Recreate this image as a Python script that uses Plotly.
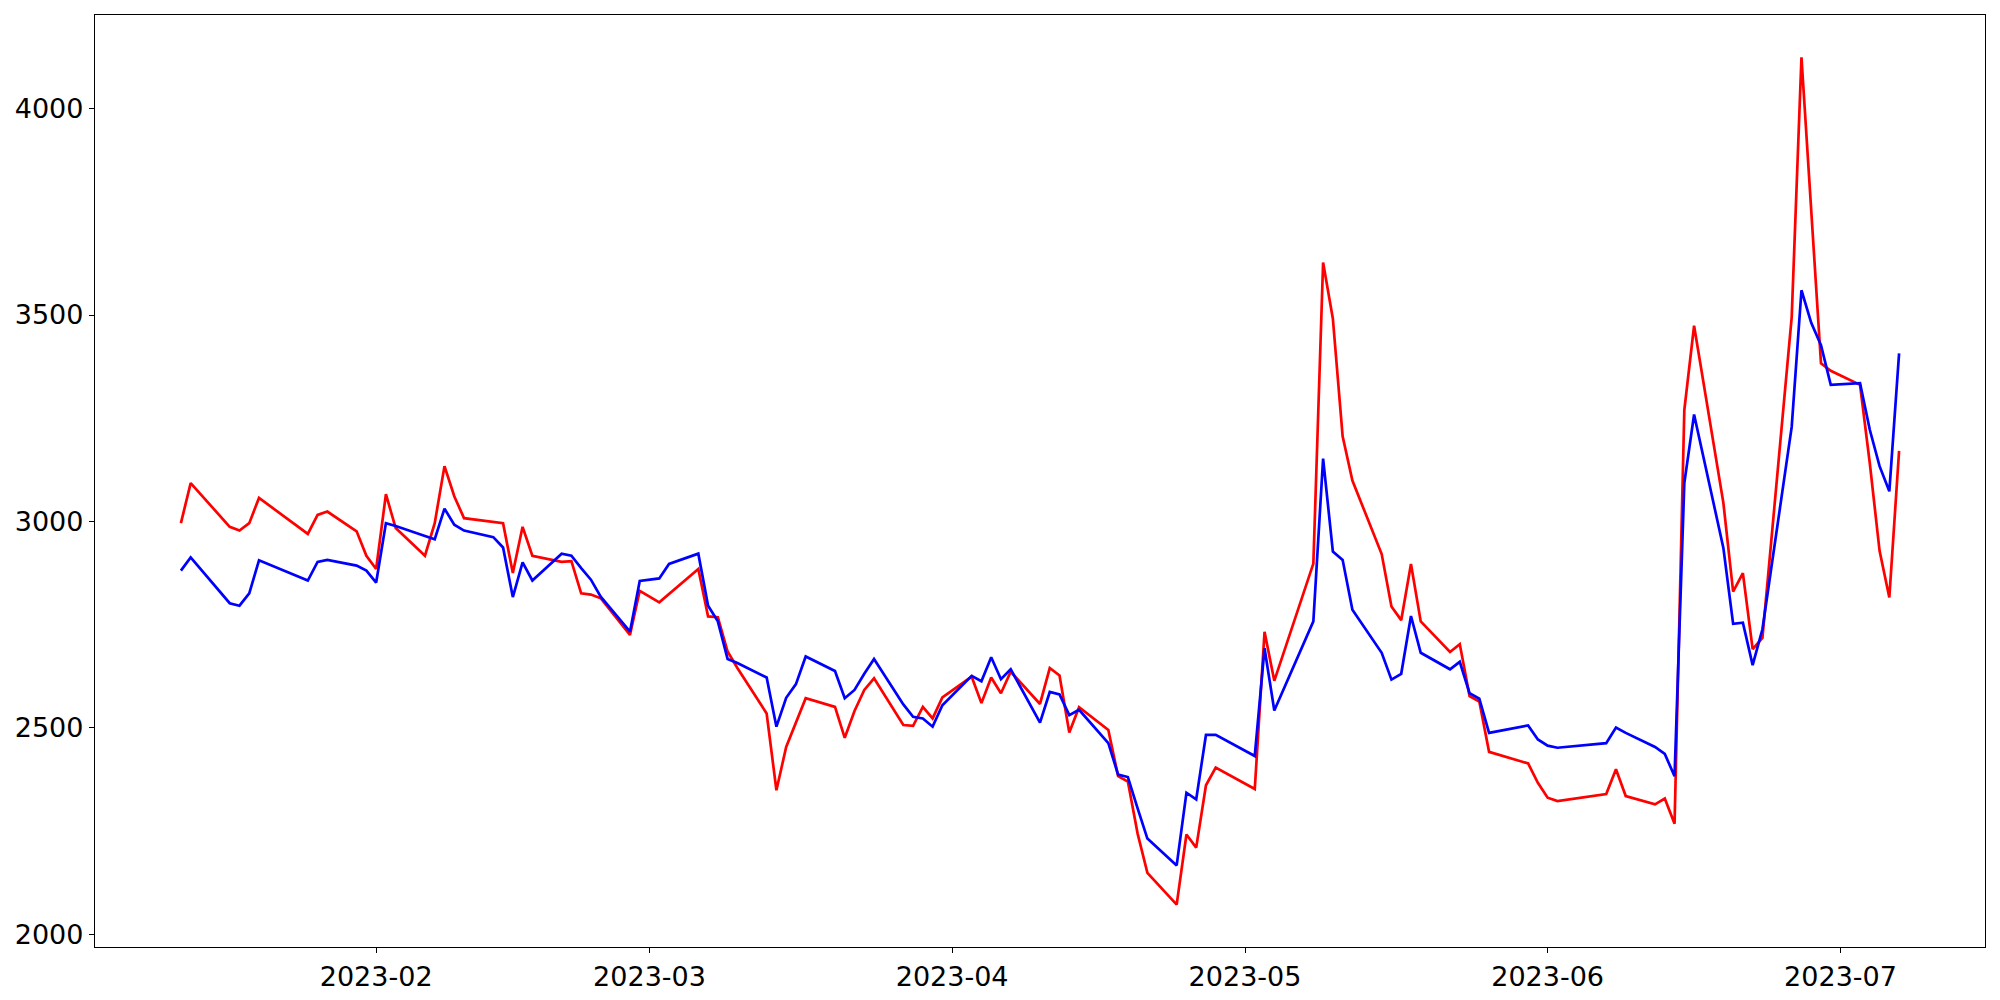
import plotly.graph_objects as go
import pandas as pd

dates = [
    "2023-01-12", "2023-01-13", "2023-01-17", "2023-01-18", "2023-01-19", "2023-01-20",
    "2023-01-25", "2023-01-26", "2023-01-27", "2023-01-30", "2023-01-31",
    "2023-02-01", "2023-02-02", "2023-02-03", "2023-02-06", "2023-02-07", "2023-02-08",
    "2023-02-09", "2023-02-10", "2023-02-13", "2023-02-14", "2023-02-15", "2023-02-16",
    "2023-02-17", "2023-02-20", "2023-02-21", "2023-02-22", "2023-02-23", "2023-02-24",
    "2023-02-27", "2023-02-28",
    "2023-03-02", "2023-03-03", "2023-03-06", "2023-03-07", "2023-03-08", "2023-03-09",
    "2023-03-10", "2023-03-13", "2023-03-14", "2023-03-15", "2023-03-16", "2023-03-17",
    "2023-03-20", "2023-03-21", "2023-03-22", "2023-03-23", "2023-03-24", "2023-03-27",
    "2023-03-28", "2023-03-29", "2023-03-30", "2023-03-31",
    "2023-04-03", "2023-04-04", "2023-04-05", "2023-04-06", "2023-04-07", "2023-04-10",
    "2023-04-11", "2023-04-12", "2023-04-13", "2023-04-14", "2023-04-17", "2023-04-18",
    "2023-04-19", "2023-04-20", "2023-04-21", "2023-04-24", "2023-04-25", "2023-04-26",
    "2023-04-27", "2023-04-28",
    "2023-05-02", "2023-05-03", "2023-05-04", "2023-05-08", "2023-05-09", "2023-05-10",
    "2023-05-11", "2023-05-12", "2023-05-15", "2023-05-16", "2023-05-17", "2023-05-18",
    "2023-05-19", "2023-05-22", "2023-05-23", "2023-05-24", "2023-05-25", "2023-05-26",
    "2023-05-30", "2023-05-31",
    "2023-06-01", "2023-06-02", "2023-06-07", "2023-06-08", "2023-06-09", "2023-06-12",
    "2023-06-13", "2023-06-14", "2023-06-15", "2023-06-16", "2023-06-19", "2023-06-20",
    "2023-06-21", "2023-06-22", "2023-06-23", "2023-06-26", "2023-06-27", "2023-06-28",
    "2023-06-29", "2023-06-30",
    "2023-07-03", "2023-07-04", "2023-07-05", "2023-07-06", "2023-07-07",
]

red_values = [
    2996, 3093, 2987, 2978, 2996, 3057,
    2970, 3016, 3024, 2976, 2917,
    2885, 3066, 2984, 2917, 2996, 3134,
    3061, 3008, 2999, 2996, 2875, 2987,
    2917, 2902, 2904, 2826, 2823, 2814,
    2725, 2832,
    2804, 2824, 2885, 2770, 2768, 2685,
    2645, 2535, 2349, 2454, 2513, 2572,
    2551, 2476, 2541, 2592, 2620, 2507,
    2505, 2551, 2523, 2574,
    2624, 2560, 2622, 2584, 2636, 2558,
    2645, 2627, 2489, 2550, 2495, 2383,
    2370, 2244, 2149, 2072, 2242, 2210,
    2361, 2404,
    2352, 2733, 2614, 2898, 3627, 3491,
    3206, 3099, 2921, 2794, 2761, 2897,
    2758, 2684, 2703, 2577, 2564, 2442,
    2414, 2367,
    2331, 2323, 2340, 2400, 2335, 2315,
    2329, 2268, 3270, 3474, 3045, 2830,
    2875, 2691, 2718, 3495, 4124, 3750,
    3383, 3365,
    3331, 3141, 2929, 2816, 3171,
]

blue_values = [
    2881, 2913, 2802, 2796, 2826, 2906,
    2857, 2902, 2907, 2893, 2881,
    2852, 2996, 2989, 2965, 2957, 3031,
    2992, 2978, 2962, 2937, 2817, 2901,
    2857, 2922, 2917, 2887, 2859, 2818,
    2733, 2856,
    2862, 2897, 2922, 2796, 2758, 2667,
    2657, 2622, 2503, 2573, 2606, 2673,
    2638, 2572, 2592, 2631, 2667, 2557,
    2527, 2523, 2503, 2555,
    2626, 2613, 2671, 2618, 2642, 2513,
    2587, 2581, 2531, 2544, 2463, 2387,
    2381, 2305, 2232, 2167, 2343, 2327,
    2483, 2483,
    2432, 2693, 2542, 2758, 3152, 2927,
    2907, 2786, 2682, 2617, 2631, 2771,
    2682, 2642, 2660, 2584, 2571, 2488,
    2506, 2472,
    2457, 2452, 2463, 2501, 2488, 2454,
    2437, 2383, 3093, 3259, 2936, 2752,
    2755, 2652, 2739, 3229, 3560, 3481,
    3427, 3331,
    3335, 3222, 3134, 3073, 3407,
]

month_ticks = ["2023-02-01", "2023-03-01", "2023-04-01", "2023-05-01", "2023-06-01", "2023-07-01"]
month_labels = ["2023-02", "2023-03", "2023-04", "2023-05", "2023-06", "2023-07"]
y_ticks = [2000, 2500, 3000, 3500, 4000]

x = pd.to_datetime(dates)
span = x.max() - x.min()
x_range = [x.min() - span * 0.05, x.max() + span * 0.05]
all_vals = red_values + blue_values
vspan = max(all_vals) - min(all_vals)
y_range = [min(all_vals) - vspan * 0.05, max(all_vals) + vspan * 0.05]

fig = go.Figure()
fig.add_trace(go.Scatter(x=x, y=red_values, mode="lines",
                         line=dict(color="#ff0000", width=2.7), showlegend=False))
fig.add_trace(go.Scatter(x=x, y=blue_values, mode="lines",
                         line=dict(color="#0000ff", width=2.7), showlegend=False))

axis_common = dict(
    showgrid=False, zeroline=False, showline=True, linecolor="black", linewidth=1.3,
    mirror=True, ticks="outside", ticklen=5, tickwidth=1.3, tickcolor="black",
    tickfont=dict(family="DejaVu Sans", size=27, color="black"),
)

fig.update_layout(
    width=2000, height=1000,
    margin=dict(l=87, r=23, t=7, b=61),
    paper_bgcolor="white", plot_bgcolor="white",
    xaxis=dict(range=x_range, tickvals=pd.to_datetime(month_ticks), ticktext=month_labels, **axis_common),
    yaxis=dict(range=y_range, tickvals=y_ticks, ticktext=[str(v) for v in y_ticks], **axis_common),
)

fig.write_html("out.html")
